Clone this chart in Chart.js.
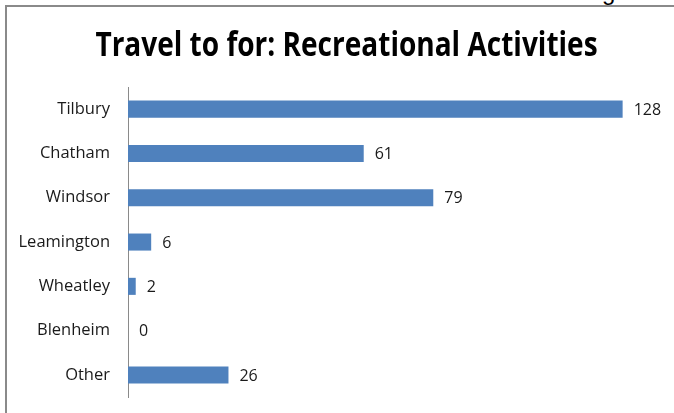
<!DOCTYPE html>
<html>
<head>
<meta charset="utf-8">
<script src="https://cdn.jsdelivr.net/npm/chart.js@4/dist/chart.umd.min.js"></script>
<style>
  html, body { margin: 0; padding: 0; background: #fff; overflow: hidden; width: 674px; height: 413px; }
  #frame { position: absolute; left: 5px; top: 5px; width: 680px; height: 420px;
           border-left: 2px solid #8a8a8a; border-top: 2px solid #8a8a8a; box-sizing: border-box; }
  #wrap { position: absolute; left: 0; top: 0; width: 678px; height: 418px; }
  #frag { position: absolute; left: 602px; top: -22px; font: 24px "Liberation Sans", sans-serif; color: #000; }
  #title { position: absolute; left: 0; top: 20px; width: 693px; text-align: center; white-space: nowrap;
           font: bold 34px "Open Sans", sans-serif; line-height: normal; color: #000;
           transform: scaleX(0.824); transform-origin: 50% 50%; z-index: 2; }
</style>
</head>
<body>
<div id="frag">g</div>
<div id="frame"><div id="wrap"><canvas id="c"></canvas></div></div>
<div id="title"></div>
<script>
const categories = ["Tilbury", "Chatham", "Windsor", "Leamington", "Wheatley", "Blenheim", "Other"];
const values = [128, 61, 79, 6, 2, 0, 26];
const titleText = "Travel to for: Recreational Activities";

document.getElementById('title').textContent = titleText;

const valueLabels = {
  id: 'valueLabels',
  afterDatasetsDraw(chart) {
    const ctx = chart.ctx;
    const meta = chart.getDatasetMeta(0);
    ctx.save();
    ctx.font = '16px "Open Sans", sans-serif';
    ctx.fillStyle = '#1a1a1a';
    ctx.textAlign = 'left';
    ctx.textBaseline = 'middle';
    meta.data.forEach((bar, i) => {
      ctx.fillText(String(values[i]), bar.x + 11, bar.y + 1);
    });
    ctx.restore();
  }
};

new Chart(document.getElementById('c'), {
  type: 'bar',
  data: {
    labels: categories,
    datasets: [{
      data: values,
      backgroundColor: '#4f81bd',
      borderWidth: 0,
      categoryPercentage: 1,
      barPercentage: 0.385
    }]
  },
  options: {
    indexAxis: 'y',
    responsive: true,
    maintainAspectRatio: false,
    animation: false,
    layout: { padding: { left: 0, right: 16, top: 80, bottom: 20 } },
    plugins: {
      legend: { display: false },
      tooltip: { enabled: false },
      title: { display: false }
    },
    scales: {
      x: { display: false, min: 0, max: 140 },
      y: {
        afterFit(scale) { scale.width = 121; },
        grid: { display: false, drawTicks: false },
        border: { display: true, color: '#8a8a8a', width: 1 },
        ticks: { color: '#1a1a1a', padding: 18, font: { family: '"Open Sans", sans-serif', size: 16.5 } }
      }
    }
  },
  plugins: [valueLabels]
});
</script>
</body>
</html>
